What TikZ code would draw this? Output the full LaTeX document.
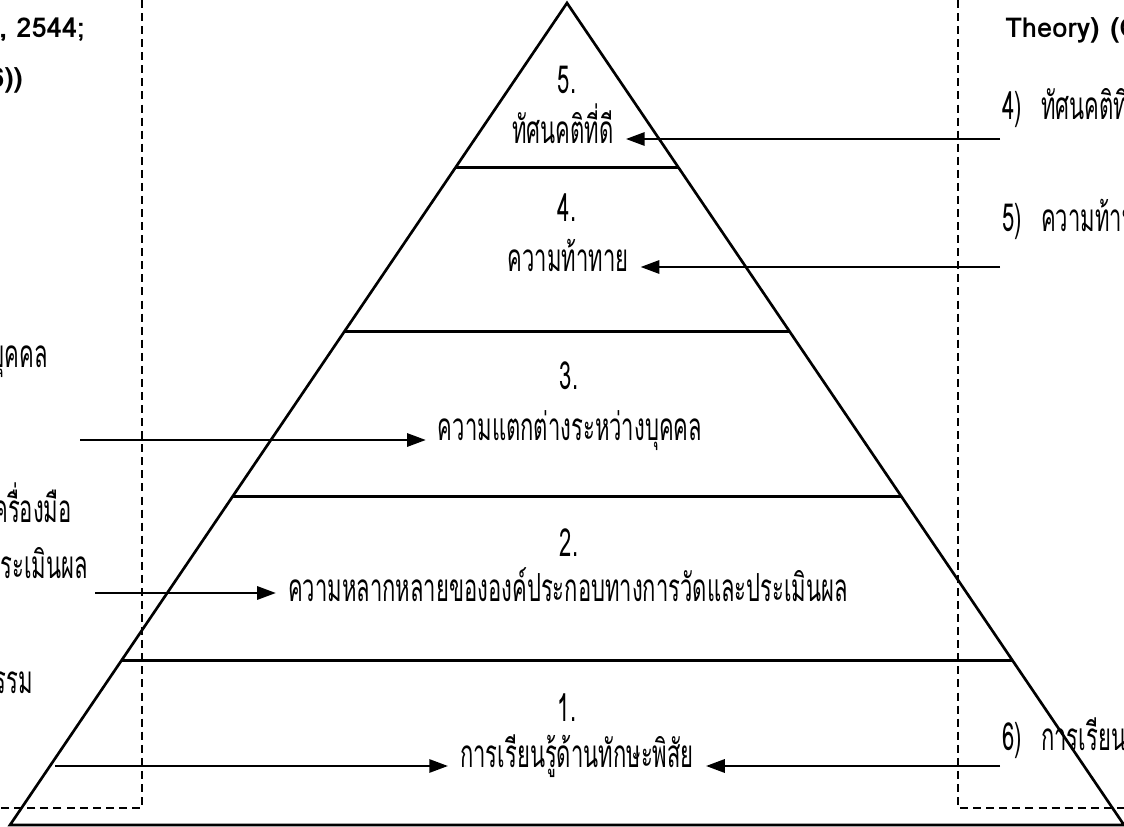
\documentclass[tikz,border=0pt]{standalone}
\usepackage{fontspec}
\newfontfamily\thaifont[Script=Thai, FakeStretch=0.57]{Loma}
\newfontfamily\thaibold[Script=Thai]{Loma}
\usetikzlibrary{arrows.meta,calc}

\tikzset{
  lvl/.style={font=\thaifont\fontsize{29}{32}\selectfont, anchor=base, inner xsep=9pt},
  side/.style={font=\thaifont\fontsize{29}{32}\selectfont, inner sep=0pt},
  ref/.style={font=\thaibold\bfseries\fontsize{20.5}{23}\selectfont, inner sep=0pt},
  arr/.style={line width=1.5pt, -{Triangle[length=14pt,width=10pt]}},
  frame/.style={line width=2.2pt, dash pattern=on 6pt off 3.8pt},
}

\begin{document}
\begin{tikzpicture}[x=0.75pt,y=-0.75pt]
	\useasboundingbox (0,0) rectangle (1124,827);
	\clip (0,0) rectangle (1124,827);
	% dashed frames on both sides
	\draw[frame] (142,0) -- (142,808) -- (0,808);
	\draw[frame] (958,0) -- (958,808) -- (1124,808);
	% pyramid
	\coordinate (apex) at (567,3);
	\coordinate (bl) at (10,825);
	\coordinate (br) at (1124,825);
	\draw[line width=2pt] (apex) -- (bl) -- (br) -- cycle;
	\foreach \t in {0.2,0.4,0.6,0.8}
		\draw[line width=2pt] ($(apex)!\t!(bl)$) -- ($(apex)!\t!(br)$);
	
	\node[lvl] (n5) at (567,94) {5.};
	\node[lvl] (t5) at (563,144) {ทัศนคติที่ดี};
	\node[lvl] (n4) at (567,222) {4.};
	\node[lvl] (t4) at (568,272) {ความท้าทาย};
	\node[lvl] (n3) at (569,389) {3.};
	\node[lvl] (t3) at (570,440) {ความแตกต่างระหว่างบุคคล};
	\node[lvl] (n2) at (569,556) {2.};
	\node[lvl] (t2) at (568,601) {ความหลากหลายขององค์ประกอบทางการวัดและประเมินผล};
	\node[lvl] (n1) at (567,721) {1.};
	\node[lvl] (t1) at (577,767) {การเรียนรู้ด้านทักษะพิสัย};
	
	% left column (cut by the page)
	\node[ref, anchor=base east] (la) at (85,38) {ม์, 2544;};
	\node[ref, anchor=base east] (lb) at (23,88) {2546))};
	\node[side, anchor=base east] (l3) at (48,367) {บุคคล};
	\node[side, anchor=base east] (l2a) at (72,522) {เครื่องมือ};
	\node[side, anchor=base east] (l2b) at (88,578) {ประเมินผล};
	\node[side, anchor=base east] (l1) at (33,693) {ธรรม};
	
	% right column (cut by the page)
	\node[ref, anchor=base west] (ra) at (1005,38) {Theory)\hspace{0.4em}(Gardner};
	\node[side, anchor=base west] (r5) at (1002,120) {4)\hspace{0.5em}ทัศนคติที่ดี};
	\node[side, anchor=base west] (r4) at (1002,232) {5)\hspace{0.5em}ความท้าทาย};
	\node[side, anchor=base west] (r1) at (1002,750) {6)\hspace{0.5em}การเรียนรู้ด้านทักษะพิสัย};
	
	\coordinate (a5) at (1000,139);
	\coordinate (a4) at (1000,267);
	\coordinate (a1) at (1000,766);
	\coordinate (b3) at (80,440);
	\coordinate (b2) at (95,593);
	\coordinate (b1) at (55,766);
	\draw[arr] (a5) -- (a5 -| t5.east);
	\draw[arr] (a4) -- (a4 -| t4.east);
	\draw[arr] (a1) -- (a1 -| t1.east);
	\draw[arr] (b3) -- (b3 -| t3.west);
	\draw[arr] (b2) -- (b2 -| t2.west);
	\draw[arr] (b1) -- (b1 -| t1.west);
\end{tikzpicture}
\end{document}
